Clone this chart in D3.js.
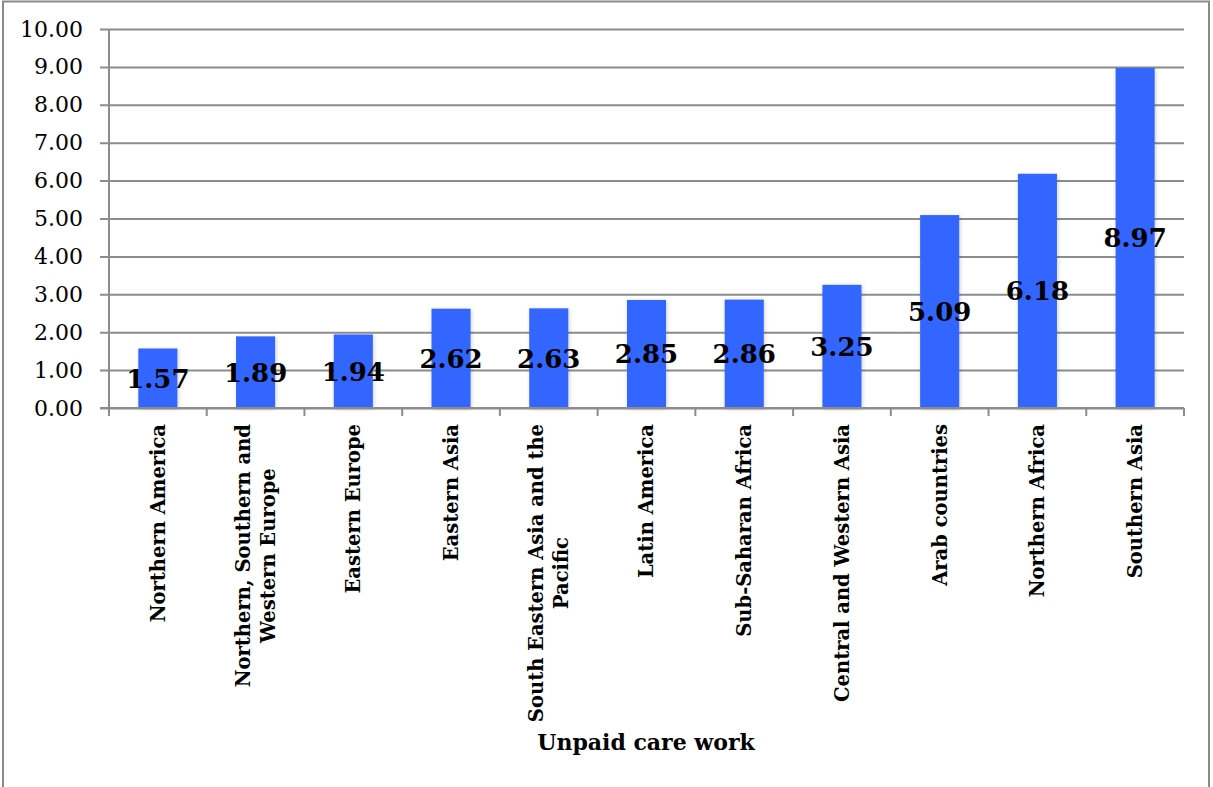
<!DOCTYPE html>
<html>
<head>
<meta charset="utf-8">
<script src="https://d3js.org/d3.v7.min.js"></script>
<style>
  body { margin: 0; background: #fff; }
  svg { display: block; }
  text { font-family: "DejaVu Serif", serif; fill: #000; }
</style>
</head>
<body>
<div id="chart"></div>
<script>
// values
var regions = [
  ["Northern America"],
  ["Northern, Southern and", "Western Europe"],
  ["Eastern Europe"],
  ["Eastern Asia"],
  ["South Eastern Asia and the", "Pacific"],
  ["Latin America"],
  ["Sub-Saharan Africa"],
  ["Central and Western Asia"],
  ["Arab countries"],
  ["Northern Africa"],
  ["Southern Asia"]
];
var hours = [1.57, 1.89, 1.94, 2.62, 2.63, 2.85, 2.86, 3.25, 5.09, 6.18, 8.97];
var yTicks = [0, 1, 2, 3, 4, 5, 6, 7, 8, 9, 10];
var axisTitle = "Unpaid care work";

var W = 1213, H = 787;
var plot = { left: 109, right: 1184, top: 29, bottom: 408 };
var gridColor = "#8c8c8c";

var svg = d3.select( "#chart" )
  .append( "svg" )
  .attr( "width", W )
  .attr( "height", H );

var defs = svg.append( "defs" );
defs.append( "filter" )
  .attr( "id", "shadow" )
  .attr( "x", "-20%" ).attr( "y", "-5%" )
  .attr( "width", "140%" ).attr( "height", "110%" )
  .append( "feDropShadow" )
  .attr( "dx", 1 ).attr( "dy", 1 )
  .attr( "stdDeviation", 2 )
  .attr( "flood-color", "#000" )
  .attr( "flood-opacity", 0.18 );

// outer frame
svg.append( "rect" )
  .attr( "x", 3 ).attr( "y", 1.5 )
  .attr( "width", 1206 ).attr( "height", 800 )
  .attr( "fill", "none" )
  .attr( "stroke", "#8a8a8a" )
  .attr( "stroke-width", 2 );

var idx = d3.range( hours.length );
var x = d3.scaleBand()
  .domain( idx )
  .range( [plot.left, plot.right] )
  .paddingInner( 0.6 )
  .paddingOuter( 0.3 );

var xTickScale = d3.scaleLinear()
  .domain( [0, hours.length] )
  .range( [plot.left, plot.right] );

var y = d3.scaleLinear()
  .domain( [0, 10] )
  .range( [plot.bottom, plot.top] );

// gridlines with the outside tick marks
var yAxis = d3.axisLeft( y )
  .tickValues( yTicks )
  .tickFormat( d3.format( ".2f" ) )
  .tickSize( 0 );

var gy = svg.append( "g" )
  .attr( "transform", "translate(" + plot.left + ",0)" )
  .call( yAxis );
gy.select( ".domain" ).remove();
gy.selectAll( ".tick line" )
  .attr( "x1", -9 )
  .attr( "x2", plot.right - plot.left )
  .attr( "stroke", gridColor )
  .attr( "stroke-width", 2 );
gy.selectAll( ".tick text" )
  .attr( "x", -26 )
  .style( "font-family", "'DejaVu Serif', serif" )
  .style( "font-size", "22px" );

// vertical axis line
svg.append( "line" )
  .attr( "x1", plot.left ).attr( "x2", plot.left )
  .attr( "y1", y( 10 ) ).attr( "y2", plot.bottom + 8 )
  .attr( "stroke", gridColor )
  .attr( "stroke-width", 2 );

// category ticks
svg.append( "g" )
  .selectAll( "line" )
  .data( d3.range( hours.length + 1 ) )
  .join( "line" )
  .attr( "x1", d => xTickScale( d ) )
  .attr( "x2", d => xTickScale( d ) )
  .attr( "y1", plot.bottom )
  .attr( "y2", plot.bottom + 8 )
  .attr( "stroke", gridColor )
  .attr( "stroke-width", 2 );

// bars
svg.append( "g" )
  .selectAll( "rect" )
  .data( idx )
  .join( "rect" )
  .attr( "x", i => x( i ) )
  .attr( "width", x.bandwidth() )
  .attr( "y", i => y( hours[i] ) )
  .attr( "height", i => plot.bottom - y( hours[i] ) )
  .attr( "fill", "#3366ff" )
  .attr( "filter", "url(#shadow)" );

// baseline over bars
svg.append( "line" )
  .attr( "x1", plot.left - 9 ).attr( "x2", plot.right )
  .attr( "y1", plot.bottom ).attr( "y2", plot.bottom )
  .attr( "stroke", gridColor )
  .attr( "stroke-width", 2 );

// value labels (centered in bar)
svg.append( "g" )
  .selectAll( "text" )
  .data( idx )
  .join( "text" )
  .attr( "x", i => x( i ) + x.bandwidth() / 2 )
  .attr( "y", i => ( y( hours[i] ) + plot.bottom ) / 2 )
  .attr( "dy", "0.36em" )
  .attr( "text-anchor", "middle" )
  .style( "font-size", "26px" )
  .style( "font-weight", "bold" )
  .text( i => hours[i].toFixed( 2 ) );

// category labels, rotated
var lineH = 25;
var catSize = "19.5px";
var cat = svg.append( "g" )
  .selectAll( "g" )
  .data( idx )
  .join( "g" )
  .attr( "transform", i => {
    var n = regions[i].length;
    var cx = x( i ) + x.bandwidth() / 2 - ( n - 1 ) * lineH / 2;
    return "translate(" + cx + "," + ( plot.bottom + 16 ) + ") rotate(-90)";
  } );

cat.each( function( i ){
  var lines = regions[i];
  var g = d3.select( this );
  var t = g.append( "text" )
    .style( "font-size", catSize )
    .style( "font-weight", "bold" )
    .attr( "text-anchor", "end" )
    .attr( "dy", "0.35em" )
    .text( lines[0] );
  if( lines.length > 1 ){
    var w = t.node().getComputedTextLength();
    for( var k = 1; k < lines.length; k++ ){
      g.append( "text" )
        .style( "font-size", catSize )
        .style( "font-weight", "bold" )
        .attr( "text-anchor", "middle" )
        .attr( "x", -w / 2 )
        .attr( "y", k * lineH )
        .attr( "dy", "0.35em" )
        .text( lines[k] );
    }
  }
} );

// axis title
svg.append( "text" )
  .attr( "x", 646 )
  .attr( "y", 750 )
  .attr( "text-anchor", "middle" )
  .style( "font-size", "22px" )
  .style( "font-weight", "bold" )
  .text( axisTitle );
</script>
</body>
</html>
